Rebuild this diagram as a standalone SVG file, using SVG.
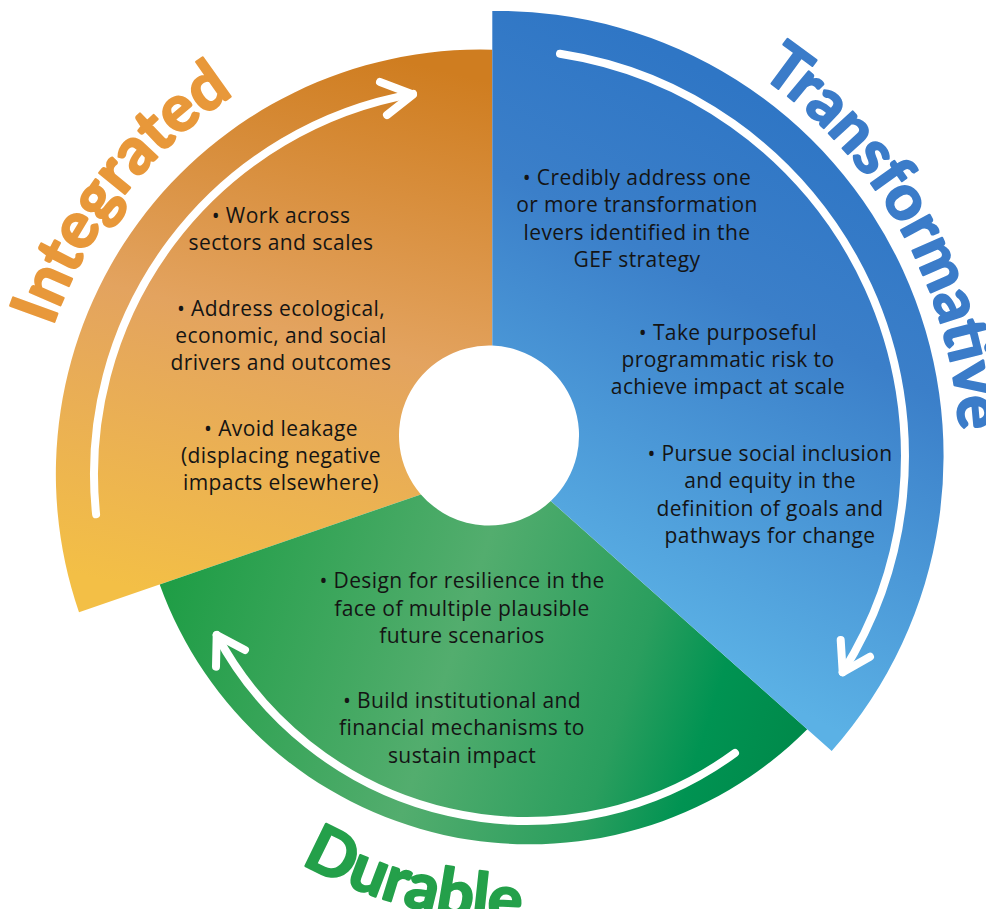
<svg xmlns="http://www.w3.org/2000/svg" width="986" height="909" viewBox="0 0 986 909">
<defs>
<linearGradient id="gO" gradientUnits="userSpaceOnUse" x1="400" y1="60" x2="260" y2="620">
<stop offset="0" stop-color="#CF7D20"/><stop offset="0.5" stop-color="#E3A35F"/><stop offset="1" stop-color="#F3BF46"/>
</linearGradient>
<linearGradient id="gB" gradientUnits="userSpaceOnUse" x1="820" y1="130" x2="580" y2="600">
<stop offset="0" stop-color="#2F76C5"/><stop offset="0.35" stop-color="#3B7FC9"/><stop offset="1" stop-color="#5BB1E5"/>
</linearGradient>
<linearGradient id="gG" gradientUnits="userSpaceOnUse" x1="170" y1="560" x2="800" y2="760">
<stop offset="0" stop-color="#1E9D45"/><stop offset="0.45" stop-color="#53AD6E"/><stop offset="0.72" stop-color="#2A9E5E"/><stop offset="0.85" stop-color="#009352"/><stop offset="1" stop-color="#00894A"/>
</linearGradient>
<path id="pI" d="M52.6,326.8 A452,452 0 0 1 440.6,23.7"/>
<path id="pT" d="M759.7,75.3 A462,462 0 0 1 953,536.2"/>
<path id="pD" d="M301.1,863.1 A470,470 0 0 0 689.7,893.7"/>
</defs>
<style>
.body{font-family:"Open Sans","Liberation Sans",sans-serif;font-size:21px;letter-spacing:0.4px;fill:#141414;text-anchor:middle}
.lab{font-family:Lato,"Liberation Sans",sans-serif;font-size:65px;font-weight:700;stroke-width:2.2;stroke-linejoin:round}
.arr{fill:none;stroke:#fff;stroke-width:8;stroke-linecap:round;stroke-linejoin:round}
</style>
<g id="integrated">
<path d="M492.3,49.7 A424.5,424.5 0 0 0 79,612.3 L420.9,494.4 A90,90 0 0 1 492.3,345.6 Z" fill="url(#gO)"/>
<path class="arr" d="M96.1,514.3 A386,386 0 0 1 413,93.9"/>
<path class="arr" d="M380,82 L413,94.5 L387,115"/>
<text class="lab" fill="#E8983A" stroke="#E8983A"><textPath href="#pI">Integrated</textPath></text>
<text class="body"><tspan x="281" y="223">• Work across</tspan><tspan x="281" y="250">sectors and scales</tspan><tspan x="281" y="316">• Address ecological,</tspan><tspan x="281" y="343">economic, and social</tspan><tspan x="281" y="370">drivers and outcomes</tspan><tspan x="281" y="436">• Avoid leakage</tspan><tspan x="281" y="463">(displacing negative</tspan><tspan x="281" y="490">impacts elsewhere)</tspan></text>
</g>
<g id="durable">
<path d="M159.7,584.5 A393,393 0 0 0 807.3,729.3 L550.8,501 A90,90 0 0 1 420.9,494.4 Z" fill="url(#gG)"/>
<path class="arr" d="M735,753 A352,352 0 0 1 216.7,635"/>
<path class="arr" d="M216,666.7 L216.7,635 L245,650"/>
<text class="lab" fill="#24A04A" stroke="#24A04A"><textPath href="#pD">Durable</textPath></text>
<text class="body"><tspan x="462" y="588">• Design for resilience in the</tspan><tspan x="462" y="616">face of multiple plausible</tspan><tspan x="462" y="643">future scenarios</tspan><tspan x="462" y="708">• Build institutional and</tspan><tspan x="462" y="735">financial mechanisms to</tspan><tspan x="462" y="763">sustain impact</tspan></text>
</g>
<g id="transformative">
<path d="M492.3,11 A445,445 0 0 1 831.7,751 L550.8,501 A90,90 0 0 0 492.3,345.6 Z" fill="url(#gB)"/>
<path class="arr" d="M560,53.7 A407,407 0 0 1 842.7,672.3"/>
<path class="arr" d="M840.7,640 L842.7,672.3 L870,656.7"/>
<text class="lab" fill="#3B7CC9" stroke="#3B7CC9" style="font-size:63px"><textPath href="#pT">Transformative</textPath></text>
<text class="body"><tspan x="637" y="185">• Credibly address one</tspan><tspan x="637" y="212">or more transformation</tspan><tspan x="637" y="240">levers identified in the</tspan><tspan x="637" y="267">GEF strategy</tspan><tspan x="728" y="340">• Take purposeful</tspan><tspan x="728" y="367">programmatic risk to</tspan><tspan x="728" y="394">achieve impact at scale</tspan><tspan x="770" y="461">• Pursue social inclusion</tspan><tspan x="770" y="488">and equity in the</tspan><tspan x="770" y="516">definition of goals and</tspan><tspan x="770" y="543">pathways for change</tspan></text>
</g>
<g id="connectors"/>
</svg>
